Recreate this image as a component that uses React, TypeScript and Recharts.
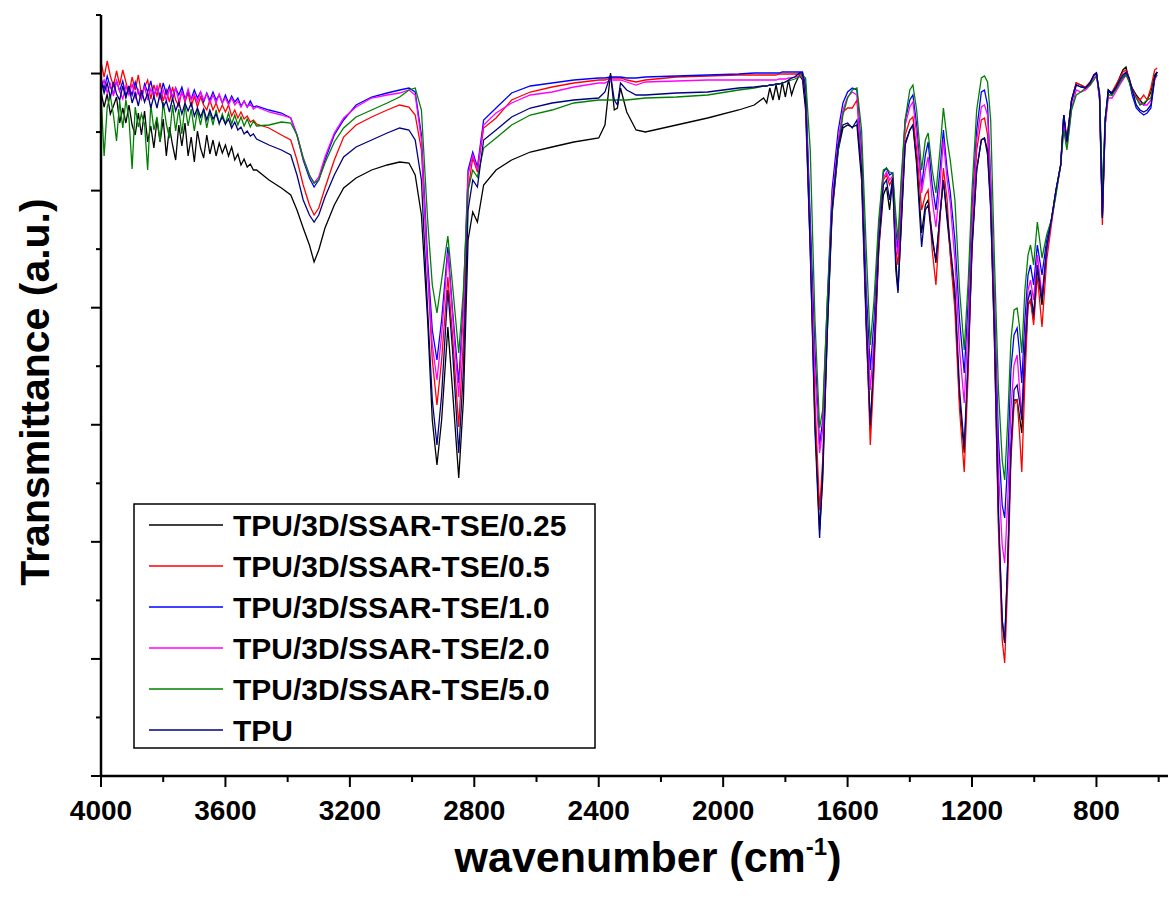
import { LineChart, Line, XAxis, YAxis, Legend } from "recharts";

const FONT = "'Liberation Sans', Arial, Helvetica, sans-serif";

// wavenumber grid (cm-1)
const wavenumbers = [
  4000, 3990, 3980, 3970, 3960, 3950, 3940, 3930, 3920, 3910,
  3900, 3890, 3880, 3870, 3860, 3850, 3840, 3830, 3820, 3810,
  3800, 3790, 3780, 3770, 3760, 3750, 3740, 3730, 3720, 3710,
  3700, 3690, 3680, 3670, 3660, 3650, 3640, 3630, 3620, 3610,
  3600, 3590, 3580, 3570, 3560, 3550, 3540, 3530, 3520, 3510,
  3500, 3460, 3420, 3390, 3370,
  3350, 3330, 3315, 3300, 3280, 3250, 3220, 3180, 3130, 3080,
  3040, 3010, 2990, 2970, 2950, 2935, 2920, 2905, 2885, 2870,
  2850, 2835, 2820, 2805, 2790, 2770, 2730, 2680, 2620, 2550,
  2480, 2400, 2380, 2362, 2350, 2340, 2330, 2310, 2280, 2250,
  2150, 2050, 1950, 1900, 1870, 1860, 1850, 1840, 1830, 1820,
  1810, 1800, 1790, 1780, 1770, 1755, 1745, 1735, 1720, 1705,
  1690, 1680, 1665, 1650, 1630, 1615, 1600, 1585, 1570, 1555,
  1540, 1527, 1515, 1500, 1485, 1475, 1465, 1455, 1445, 1438,
  1428, 1415, 1400, 1390, 1378, 1362, 1350, 1341, 1328, 1316,
  1303, 1292, 1280, 1270, 1255, 1240, 1225, 1212, 1200, 1185,
  1170, 1160, 1150, 1140, 1128, 1115, 1103, 1095, 1085, 1075,
  1065, 1055, 1048, 1040, 1030, 1020, 1012, 1002, 990, 975,
  960, 945, 930, 915, 905, 895, 880, 865, 850, 835,
  820, 808, 800, 790, 781, 772, 762, 750, 738, 725,
  715, 705, 695, 685, 672, 660, 648, 637, 625, 613,
  605,
];

// transmittance (a.u.) per sample
const tpu025 = [
  68.4, 66.9, 68.2, 66.2, 67.0, 67.9, 65.3, 66.8, 65.3, 67.1,
  65.1, 64.1, 66.3, 64.1, 66.5, 63.4, 65.0, 62.8, 65.6, 63.4,
  65.7, 62.0, 64.9, 63.1, 61.6, 65.1, 63.0, 65.3, 62.0, 63.9,
  61.4, 64.5, 62.8, 61.8, 64.1, 62.2, 63.6, 62.0, 63.3, 62.3,
  63.1, 62.0, 62.9, 61.6, 62.2, 61.1, 61.7, 60.9, 61.2, 60.6,
  60.6, 59.6, 58.8, 58.1, 56.6,
  54.8, 53.1, 51.4, 52.6, 54.8, 57.1, 58.8, 59.8, 60.6, 61.1,
  61.4, 61.3, 60.1, 56.1, 45.6, 35.6, 31.1, 35.6, 44.9, 38.6,
  29.8, 37.6, 53.6, 56.4, 55.4, 59.1, 60.6, 61.6, 62.4, 62.9,
  63.4, 63.8, 65.1, 70.3, 66.6, 66.8, 68.8, 66.4, 64.6, 64.4,
  65.1, 65.8, 66.6, 67.1, 67.8, 67.3, 68.8, 67.6, 69.1, 67.6,
  69.4, 67.9, 69.6, 68.1, 69.1, 70.1, 69.6, 66.6, 52.6, 35.6,
  24.6, 29.6, 44.6, 56.1, 62.6, 64.8, 65.1, 64.9, 65.1, 59.6,
  44.6, 34.6, 41.6, 52.6, 58.1, 58.9, 56.6, 59.6, 51.6, 48.6,
  54.6, 63.3, 64.6, 65.1, 61.6, 54.3, 57.1, 57.6, 54.1, 51.3,
  56.1, 59.6, 55.6, 52.4, 47.6, 37.6, 32.3, 41.6, 52.6, 60.6,
  63.6, 63.8, 62.1, 56.6, 43.6, 25.6, 15.6, 13.3, 21.6, 32.6,
  37.6, 37.6, 36.1, 34.3, 41.6, 47.1, 47.6, 45.6, 50.6, 47.1,
  52.6, 55.6, 58.6, 61.1, 66.1, 63.6, 67.6, 69.3, 69.1, 68.8,
  69.4, 70.1, 70.3, 68.1, 56.1, 65.6, 68.6, 68.1, 68.9, 69.9,
  70.6, 70.9, 69.6, 68.8, 68.1, 67.6, 67.1, 67.6, 68.4, 70.1,
  70.4,
];

const tpu05 = [
  71.4, 69.9, 71.5, 70.0, 69.0, 70.5, 69.1, 70.6, 69.4, 68.2,
  69.9, 68.6, 70.1, 68.1, 68.9, 69.6, 67.7, 69.1, 68.0, 69.3,
  67.5, 68.6, 67.4, 68.9, 67.6, 67.0, 68.5, 67.4, 68.3, 66.9,
  68.0, 66.9, 67.9, 67.1, 66.6, 67.6, 66.6, 67.3, 66.4, 67.1,
  66.4, 67.1, 66.0, 66.6, 65.8, 66.4, 65.7, 66.0, 65.4, 65.6,
  65.2, 64.8, 64.1, 63.6, 61.6,
  59.1, 57.1, 56.1, 56.8, 58.8, 61.6, 63.9, 65.1, 65.9, 66.6,
  67.1, 66.9, 66.1, 62.6, 50.6, 41.6, 37.1, 41.6, 49.9, 44.1,
  34.9, 43.6, 58.6, 61.8, 60.4, 64.8, 65.8, 67.6, 68.4, 68.9,
  69.3, 69.6, 69.6, 69.8, 69.8, 69.8, 69.8, 69.6, 69.4, 69.6,
  69.9, 70.0, 70.1, 70.1, 70.1, 70.1, 70.1, 70.1, 70.1, 70.2,
  70.2, 70.2, 70.2, 70.2, 70.2, 70.2, 70.1, 68.6, 54.6, 37.6,
  26.6, 31.6, 45.6, 56.6, 63.1, 66.4, 66.8, 66.8, 67.6, 61.6,
  45.6, 33.1, 40.6, 52.6, 59.6, 60.1, 59.1, 59.8, 52.6, 51.1,
  56.6, 64.1, 65.6, 65.9, 62.6, 56.6, 58.1, 58.6, 52.6, 49.1,
  55.6, 60.8, 57.6, 52.1, 46.6, 36.6, 30.4, 40.6, 53.6, 62.6,
  65.6, 65.8, 64.1, 57.6, 43.6, 24.6, 13.6, 11.3, 19.6, 31.6,
  37.1, 37.6, 34.6, 30.4, 39.6, 47.1, 47.6, 45.1, 50.1, 44.9,
  51.6, 55.1, 58.4, 61.1, 65.8, 63.6, 67.6, 69.3, 69.1, 68.9,
  69.4, 70.1, 70.3, 67.6, 55.1, 65.1, 68.4, 68.4, 69.1, 69.8,
  70.4, 70.6, 69.8, 68.6, 67.9, 67.6, 68.1, 67.6, 68.8, 70.6,
  70.8,
];

const tpu10 = [
  69.8, 68.7, 70.0, 68.9, 68.2, 69.5, 68.5, 69.5, 68.0, 68.9,
  68.1, 69.4, 68.3, 67.7, 69.2, 68.4, 69.5, 68.0, 68.9, 67.9,
  69.3, 68.2, 69.0, 67.7, 68.8, 68.1, 68.9, 67.7, 68.4, 67.7,
  68.6, 67.8, 68.4, 67.4, 68.3, 67.6, 68.4, 67.6, 68.1, 67.3,
  68.1, 67.3, 68.0, 67.4, 67.8, 67.0, 67.5, 66.9, 67.5, 66.9,
  67.0, 66.6, 66.3, 65.8, 64.1,
  61.6, 59.8, 58.9, 59.6, 61.6, 64.1, 65.6, 67.1, 67.9, 68.3,
  68.6, 68.8, 68.4, 64.1, 51.6, 44.6, 41.6, 45.6, 52.9, 46.6,
  39.3, 47.6, 60.6, 62.4, 60.9, 65.6, 66.8, 68.3, 69.0, 69.3,
  69.6, 69.8, 69.8, 69.9, 69.9, 69.9, 69.9, 69.8, 69.8, 69.9,
  70.0, 70.1, 70.2, 70.3, 70.3, 70.3, 70.3, 70.3, 70.3, 70.3,
  70.4, 70.4, 70.4, 70.4, 70.4, 70.4, 70.4, 69.1, 55.6, 42.6,
  33.1, 35.6, 47.6, 58.6, 64.6, 67.3, 68.4, 68.8, 68.6, 62.6,
  48.6, 40.6, 45.6, 54.6, 60.4, 60.8, 60.1, 60.3, 54.6, 52.6,
  58.6, 65.6, 67.6, 68.1, 65.1, 58.9, 62.1, 63.4, 59.1, 56.6,
  60.6, 64.6, 60.6, 58.4, 53.6, 45.6, 40.3, 47.6, 56.6, 64.6,
  68.4, 68.6, 67.1, 59.6, 47.6, 33.6, 27.1, 25.8, 31.6, 40.6,
  44.1, 44.8, 42.6, 39.3, 45.6, 50.1, 51.1, 49.1, 53.1, 50.1,
  53.6, 55.6, 58.6, 61.1, 66.1, 63.1, 67.4, 69.1, 68.9, 68.8,
  69.3, 70.1, 70.3, 67.8, 55.8, 65.1, 68.4, 68.3, 68.8, 69.4,
  69.9, 70.3, 69.6, 68.1, 66.8, 66.4, 66.1, 66.3, 66.8, 69.6,
  70.4,
];

const tpu20 = [
  68.8, 69.6, 68.3, 69.2, 68.0, 69.5, 68.5, 67.7, 69.0, 68.1,
  69.2, 67.8, 68.6, 67.7, 69.0, 67.6, 68.7, 68.0, 69.0, 67.7,
  68.6, 67.5, 68.7, 68.0, 68.8, 67.5, 68.4, 67.6, 68.7, 67.6,
  68.2, 67.4, 68.4, 67.6, 68.2, 67.3, 68.1, 67.3, 68.2, 67.3,
  67.8, 67.1, 67.8, 67.1, 67.5, 66.9, 67.5, 66.9, 67.2, 66.7,
  66.9, 66.4, 66.1, 65.8, 64.1,
  61.8, 60.1, 59.3, 59.9, 61.9, 64.3, 65.8, 66.9, 67.8, 68.1,
  68.3, 68.6, 68.1, 63.6, 50.6, 43.1, 39.6, 44.1, 52.3, 46.1,
  37.9, 46.6, 60.1, 62.1, 60.6, 65.1, 66.3, 67.3, 68.1, 68.4,
  68.9, 69.3, 69.3, 69.6, 69.6, 69.6, 69.6, 69.4, 69.1, 69.4,
  69.5, 69.6, 69.6, 69.6, 69.6, 69.6, 69.6, 69.6, 69.6, 69.7,
  69.7, 69.7, 69.8, 69.8, 69.9, 70.0, 69.9, 68.1, 53.6, 40.6,
  32.3, 34.6, 46.6, 57.6, 63.6, 66.6, 67.9, 68.4, 68.1, 61.6,
  46.6, 38.6, 43.6, 53.6, 59.8, 60.4, 59.6, 60.0, 53.6, 52.1,
  57.6, 65.1, 66.9, 67.4, 64.1, 58.3, 60.6, 61.9, 57.6, 54.9,
  59.1, 63.6, 59.6, 57.3, 51.6, 42.6, 37.3, 45.6, 55.6, 63.6,
  66.9, 67.1, 66.1, 59.1, 46.6, 30.6, 23.1, 21.3, 27.6, 36.6,
  41.1, 42.1, 39.1, 35.9, 43.6, 48.6, 49.6, 47.6, 52.1, 48.1,
  52.6, 55.4, 58.4, 61.1, 65.1, 62.8, 66.8, 68.6, 68.4, 68.6,
  69.1, 69.8, 70.1, 67.8, 56.6, 65.1, 67.8, 67.8, 68.4, 69.1,
  69.6, 70.1, 69.6, 68.6, 67.8, 67.3, 67.1, 67.1, 67.6, 69.6,
  70.1,
];

const tpu50 = [
  68.1, 62.0, 66.9, 68.0, 66.1, 63.5, 67.5, 64.8, 67.6, 65.7,
  60.7, 66.9, 64.9, 66.2, 65.2, 60.6, 67.2, 64.6, 65.9, 63.4,
  67.4, 65.2, 63.8, 67.1, 64.5, 66.7, 64.2, 67.1, 65.0, 66.7,
  64.5, 66.6, 65.1, 66.7, 64.8, 66.4, 65.1, 66.6, 65.2, 66.2,
  65.2, 66.3, 65.2, 66.1, 65.1, 65.9, 65.0, 65.7, 64.9, 65.5,
  65.0, 65.1, 65.4, 65.3, 64.1,
  61.8, 60.1, 59.3, 59.6, 61.3, 63.4, 64.8, 65.9, 66.6, 67.3,
  67.9, 68.6, 68.8, 66.6, 55.6, 49.1, 46.3, 49.6, 54.0, 49.1,
  42.3, 48.6, 58.6, 60.6, 59.9, 62.8, 63.8, 65.1, 66.1, 66.6,
  67.3, 67.6, 67.6, 67.6, 67.6, 67.6, 67.6, 67.6, 67.7, 67.8,
  67.9, 68.1, 68.6, 68.8, 69.0, 69.0, 69.1, 69.1, 69.2, 69.2,
  69.3, 69.4, 69.5, 69.6, 69.7, 69.9, 70.1, 69.8, 62.6, 45.6,
  34.8, 36.6, 47.6, 56.6, 62.6, 66.1, 67.8, 68.6, 68.8, 64.6,
  52.6, 43.1, 47.6, 55.6, 60.6, 60.8, 60.4, 60.3, 56.1, 53.6,
  59.6, 65.6, 68.6, 69.1, 66.6, 60.6, 63.6, 64.3, 60.6, 58.3,
  62.6, 66.8, 63.6, 61.6, 57.6, 48.6, 42.6, 49.6, 58.6, 66.6,
  69.8, 70.0, 69.4, 65.6, 51.6, 38.6, 31.6, 29.6, 35.6, 43.6,
  46.6, 46.8, 45.1, 42.3, 48.6, 52.1, 53.1, 51.1, 55.4, 51.8,
  54.1, 55.6, 58.1, 61.1, 64.6, 62.6, 66.6, 68.1, 68.4, 68.8,
  69.1, 69.6, 70.0, 68.4, 58.6, 65.8, 68.1, 68.1, 68.6, 69.3,
  69.8, 70.1, 69.4, 68.4, 67.8, 67.1, 67.3, 67.6, 67.8, 69.8,
  70.1,
];

const tpuNeat = [
  69.6, 68.3, 69.3, 67.8, 69.4, 68.2, 67.6, 69.0, 67.8, 69.0,
  67.3, 68.3, 67.0, 68.6, 67.4, 68.3, 66.8, 68.0, 66.8, 68.3,
  66.9, 67.5, 66.4, 67.8, 66.5, 67.4, 66.2, 67.3, 66.5, 67.3,
  66.0, 66.8, 65.9, 66.7, 65.6, 66.6, 65.7, 66.2, 65.3, 65.9,
  65.2, 65.7, 64.8, 65.4, 64.6, 64.9, 64.2, 64.5, 64.0, 64.2,
  63.7, 63.1, 62.6, 62.1, 60.1,
  57.6, 56.1, 55.4, 56.1, 57.9, 60.1, 61.9, 62.9, 63.6, 64.3,
  64.8, 64.6, 63.6, 59.6, 46.6, 37.6, 33.1, 38.1, 48.6, 42.6,
  32.3, 40.6, 56.6, 59.6, 58.9, 63.6, 64.6, 65.9, 66.8, 67.3,
  67.6, 67.8, 68.4, 70.1, 67.6, 67.1, 69.3, 68.6, 68.1, 68.1,
  68.3, 68.4, 68.8, 68.9, 69.0, 69.0, 69.1, 69.1, 69.2, 69.2,
  69.3, 69.4, 69.6, 69.8, 69.9, 70.3, 70.3, 67.6, 52.6, 34.6,
  23.8, 30.6, 44.6, 56.6, 63.1, 65.1, 65.3, 64.8, 65.6, 60.6,
  45.6, 35.1, 42.1, 53.1, 59.1, 59.6, 57.6, 59.8, 50.6, 48.3,
  55.1, 63.1, 64.6, 65.1, 61.1, 52.9, 56.6, 57.1, 53.6, 51.6,
  56.1, 59.6, 56.1, 53.1, 48.6, 38.6, 32.9, 42.1, 53.1, 60.6,
  63.6, 63.8, 62.6, 57.1, 44.6, 26.6, 15.6, 13.3, 21.6, 32.6,
  38.6, 39.1, 37.6, 35.6, 42.6, 47.6, 48.6, 46.1, 51.1, 47.6,
  52.8, 55.6, 58.6, 61.1, 66.1, 63.4, 67.6, 69.1, 68.9, 68.8,
  69.3, 70.1, 70.3, 68.1, 55.8, 65.6, 68.6, 68.3, 68.8, 69.6,
  70.1, 70.4, 69.8, 68.6, 67.1, 66.6, 66.4, 66.6, 67.1, 69.8,
  70.4,
];

const seriesKeys = ["tpu025", "tpu05", "tpu10", "tpu20", "tpu50", "tpu"];
const seriesNames = [
  "TPU/3D/SSAR-TSE/0.25",
  "TPU/3D/SSAR-TSE/0.5",
  "TPU/3D/SSAR-TSE/1.0",
  "TPU/3D/SSAR-TSE/2.0",
  "TPU/3D/SSAR-TSE/5.0",
  "TPU",
];
const seriesColors = ["#000000", "#ff0000", "#0000ff", "#ff00ff", "#008000", "#000080"];
const seriesValues = [tpu025, tpu05, tpu10, tpu20, tpu50, tpuNeat];

const xTicks = [4000, 3800, 3600, 3400, 3200, 3000, 2800, 2600, 2400, 2200, 2000, 1800, 1600, 1400, 1200, 1000, 800, 600];
const xTickLabels = [4000, 3600, 3200, 2800, 2400, 2000, 1600, 1200, 800];
const yTop = 76.1;
const yTicks = Array.from({ length: 14 }, (_, i) => (i * yTop) / 13);

const data = wavenumbers.map((w, i) => {
  const row: Record<string, number> = { w };
  seriesKeys.forEach((k, j) => {
    row[k] = seriesValues[j][i];
  });
  return row;
});

const XTick = (props: any) => {
  const { x, y, payload } = props;
  const major = xTickLabels.includes(payload.value);
  return (
    <g>
      <line x1={x} x2={x} y1={y} y2={y + (major ? 11 : 6)} stroke="#000" strokeWidth={2} />
      {major && (
        <text x={x} y={y + 44} textAnchor="middle" fontSize={28} fontWeight="bold" fontFamily={FONT} fill="#000">
          {payload.value}
        </text>
      )}
    </g>
  );
};

const YTick = (props: any) => {
  const { x, y, payload } = props;
  const idx = Math.round((payload.value * 13) / yTop);
  const len = idx % 2 === 0 ? 10 : 5;
  return <line x1={x} x2={x - len} y1={y} y2={y} stroke="#000" strokeWidth={2} />;
};

const xTitle = () => (
  <text x={648} y={872} textAnchor="middle" fontSize={43} fontWeight="bold" fontFamily={FONT} fill="#000">
    wavenumber (cm
    <tspan dy={-17} fontSize={24}>-1</tspan>
    <tspan dy={17}>)</tspan>
  </text>
);

const yTitle = () => (
  <text
    x={49}
    y={392}
    transform="rotate(-90, 49, 392)"
    textAnchor="middle"
    fontSize={41}
    fontWeight="bold"
    fontFamily={FONT}
    fill="#000"
  >
    Transmittance (a.u.)
  </text>
);

// legend drawn in series order (recharts would sort it by name)
const renderLegend = () => (
  <svg width={463} height={246} style={{ display: "block" }}>
    <rect x={1} y={1} width={461} height={244} fill="#fff" stroke="#000" strokeWidth={1.5} />
    {seriesNames.map((name, i) => (
      <g key={name}>
        <line x1={16} x2={90} y1={22 + i * 41} y2={22 + i * 41} stroke={seriesColors[i]} strokeWidth={1.5} />
        <text x={100} y={33 + i * 41} fontSize={30} fontWeight="bold" fontFamily={FONT} fill="#000">
          {name}
        </text>
      </g>
    ))}
  </svg>
);

export default function App() {
  return (
    <div style={{ position: "absolute", left: 0, top: 0, width: 1169, height: 914, background: "#fff" }}>
      <LineChart width={1169} height={914} data={data} margin={{ top: 15, right: 1, bottom: 108, left: 41 }}>
        <XAxis
          dataKey="w"
          type="number"
          domain={[570, 4000]}
          reversed
          allowDataOverflow
          ticks={xTicks}
          interval={0}
          tickSize={0}
          tickMargin={0}
          tickLine={false}
          tick={(p: any) => <XTick {...p} />}
          axisLine={{ stroke: "#000", strokeWidth: 2.5 }}
          height={30}
          label={xTitle}
        />
        <YAxis
          type="number"
          domain={[0, yTop]}
          ticks={yTicks}
          interval={0}
          tickSize={0}
          tickMargin={0}
          tickLine={false}
          tick={(p: any) => <YTick {...p} />}
          axisLine={{ stroke: "#000", strokeWidth: 2.5 }}
          width={60}
          label={yTitle}
        />
        <Legend
          layout="vertical"
          align="center"
          verticalAlign="middle"
          content={renderLegend}
          wrapperStyle={{ position: "absolute", left: 133, top: 503, width: 463, height: 246 }}
        />
        {seriesKeys.map((k, i) => (
          <Line
            key={k}
            type="linear"
            dataKey={k}
            name={seriesNames[i]}
            stroke={seriesColors[i]}
            strokeWidth={1.3}
            dot={false}
            activeDot={false}
            isAnimationActive={false}
          />
        ))}
      </LineChart>
    </div>
  );
}
